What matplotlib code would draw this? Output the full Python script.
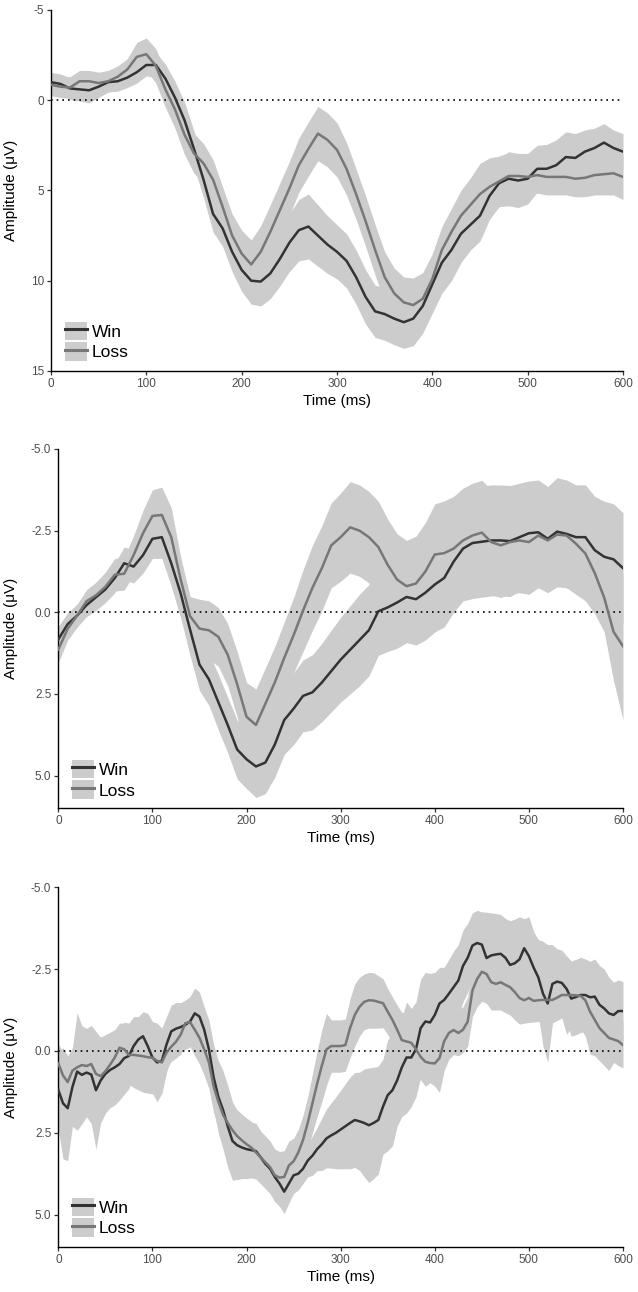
import matplotlib
matplotlib.use("Agg")
import matplotlib.pyplot as plt
from matplotlib.lines import Line2D
from matplotlib.patches import Patch
from matplotlib.legend_handler import HandlerTuple
import numpy as np

plt.rcParams["font.family"] = ["Liberation Sans", "DejaVu Sans"]

_WIN = "#333333"
_LOSS = "#777777"
_FILL = "#cccccc"

# time grids (ms)
t_a = np.arange(0, 601, 10)
t_c = np.arange(0, 601, 5)

# ---- panel 1 ----
win_a = [-1.0, -0.9, -0.65, -0.6, -0.55, -0.75, -1.0, -1.05, -1.25, -1.55,
         -1.95, -1.95, -1.2, -0.15, 1.1, 2.7, 4.4, 6.3, 7.1, 8.4,
         9.4, 10.0, 10.05, 9.6, 8.8, 7.9, 7.2, 7.0, 7.5, 8.0,
         8.4, 8.9, 9.8, 10.9, 11.7, 11.85, 12.1, 12.3, 12.1, 11.4,
         10.2, 9.0, 8.3, 7.4, 6.9, 6.4, 5.3, 4.6, 4.35, 4.45,
         4.35, 3.8, 3.8, 3.6, 3.15, 3.2, 2.85, 2.65, 2.35, 2.65,
         2.85]
loss_a = [-0.85, -0.75, -0.7, -1.05, -1.05, -0.95, -1.05, -1.3, -1.7, -2.4,
          -2.55, -1.9, -0.6, 0.5, 1.9, 2.95, 3.5, 4.4, 5.9, 7.5,
          8.5, 9.1, 8.4, 7.3, 6.1, 4.9, 3.6, 2.7, 1.85, 2.2,
          2.75, 3.8, 5.2, 6.7, 8.3, 9.8, 10.7, 11.2, 11.35, 11.0,
          9.9, 8.3, 7.3, 6.4, 5.8, 5.2, 4.8, 4.5, 4.2, 4.2,
          4.25, 4.15, 4.25, 4.25, 4.25, 4.35, 4.3, 4.15, 4.1, 4.05,
          4.25]
win_se_a = [0.55, 0.55, 0.6, 0.65, 0.7, 0.6, 0.55, 0.55, 0.55, 0.6,
            0.6, 0.7, 0.8, 0.9, 1.0, 1.0, 1.0, 1.0, 1.0, 1.1,
            1.2, 1.3, 1.35, 1.4, 1.5, 1.6, 1.7, 1.8, 1.7, 1.6,
            1.5, 1.5, 1.5, 1.5, 1.45, 1.45, 1.45, 1.45, 1.5, 1.5,
            1.6, 1.7, 1.7, 1.6, 1.4, 1.4, 1.3, 1.3, 1.5, 1.5,
            1.4, 1.3, 1.35, 1.4, 1.4, 1.35, 1.2, 1.1, 1.05, 1.0,
            1.0]
loss_se_a = [0.6, 0.6, 0.6, 0.6, 0.6, 0.6, 0.6, 0.6, 0.6, 0.8,
             0.9, 0.95, 1.0, 1.05, 1.1, 1.1, 1.1, 1.1, 1.1, 1.2,
             1.3, 1.35, 1.45, 1.5, 1.5, 1.5, 1.5, 1.5, 1.5, 1.5,
             1.5, 1.45, 1.4, 1.4, 1.4, 1.4, 1.4, 1.4, 1.5, 1.45,
             1.4, 1.3, 1.3, 1.4, 1.5, 1.7, 1.6, 1.4, 1.3, 1.2,
             1.1, 1.0, 1.0, 1.0, 1.0, 1.0, 1.05, 1.1, 1.15, 1.2,
             1.25]

# ---- panel 2 ----
win_b = [0.83, 0.36, 0.1, -0.22, -0.46, -0.7, -1.05, -1.5, -1.4, -1.75,
         -2.25, -2.3, -1.5, -0.58, 0.53, 1.6, 2.05, 2.75, 3.45, 4.2,
         4.5, 4.72, 4.6, 4.05, 3.3, 2.95, 2.56, 2.45, 2.15, 1.8,
         1.45, 1.15, 0.85, 0.55, -0.03, -0.15, -0.3, -0.47, -0.4, -0.6,
         -0.85, -1.05, -1.55, -1.95, -2.12, -2.16, -2.2, -2.2, -2.18, -2.3,
         -2.42, -2.45, -2.25, -2.47, -2.4, -2.3, -2.3, -1.9, -1.7, -1.62,
         -1.35]
loss_b = [1.14, 0.5, 0.1, -0.34, -0.52, -0.78, -1.15, -1.18, -1.75, -2.42,
          -2.95, -2.98, -2.3, -1.0, 0.12, 0.5, 0.55, 0.75, 1.3, 2.2,
          3.2, 3.45, 2.8, 2.15, 1.4, 0.7, -0.05, -0.75, -1.35, -2.05,
          -2.3, -2.6, -2.5, -2.3, -2.0, -1.45, -1.0, -0.8, -0.88, -1.25,
          -1.77, -1.81, -1.95, -2.2, -2.35, -2.44, -2.15, -2.05, -2.15, -2.2,
          -2.15, -2.35, -2.2, -2.38, -2.35, -2.1, -1.8, -1.2, -0.45, 0.6,
          1.04]
win_se_b = [0.4, 0.35, 0.35, 0.35, 0.4, 0.4, 0.45, 0.5, 0.5, 0.55,
            0.6, 0.65, 0.7, 0.75, 0.8, 0.8, 0.8, 0.85, 0.85, 0.9,
            0.9, 0.95, 0.95, 1.0, 1.05, 1.1, 1.1, 1.15, 1.2, 1.25,
            1.3, 1.35, 1.4, 1.4, 1.35, 1.35, 1.4, 1.4, 1.4, 1.45,
            1.45, 1.5, 1.55, 1.6, 1.7, 1.7, 1.7, 1.7, 1.7, 1.65,
            1.6, 1.6, 1.6, 1.65, 1.65, 1.6, 1.6, 1.65, 1.7, 1.7,
            1.7]
loss_se_b = [0.4, 0.35, 0.35, 0.35, 0.4, 0.45, 0.5, 0.5, 0.6, 0.7,
             0.8, 0.85, 0.9, 0.7, 0.6, 0.9, 0.9, 0.9, 0.95, 1.0,
             1.05, 1.1, 1.1, 1.1, 1.1, 1.15, 1.25, 1.3, 1.3, 1.3,
             1.35, 1.4, 1.4, 1.4, 1.4, 1.4, 1.4, 1.4, 1.45, 1.5,
             1.55, 1.6, 1.6, 1.6, 1.6, 1.6, 1.6, 1.6, 1.6, 1.6,
             1.6, 1.6, 1.6, 1.6, 1.6, 1.55, 1.45, 1.25, 1.05, 1.5,
             2.25]

# ---- panel 3 (5 ms steps) ----
win_c = [1.19, 1.6, 1.75, 1.1, 0.63, 0.73, 0.66, 0.72, 1.2, 0.9,
         0.7, 0.58, 0.5, 0.4, 0.22, 0.15, -0.15, -0.35, -0.45, -0.15,
         0.2, 0.35, 0.3, -0.2, -0.6, -0.68, -0.73, -0.8, -0.9, -1.15,
         -1.05, -0.65, -0.05, 0.8, 1.4, 1.8, 2.3, 2.75, 2.88, 2.95,
         3.0, 3.03, 3.06, 3.25, 3.45, 3.6, 3.85, 4.05, 4.3, 4.05,
         3.8, 3.75, 3.6, 3.35, 3.2, 3.0, 2.85, 2.67, 2.58, 2.5,
         2.4, 2.3, 2.2, 2.11, 2.15, 2.2, 2.27, 2.2, 2.11, 1.7,
         1.35, 1.2, 0.9, 0.5, 0.2, 0.2, -0.05, -0.7, -0.9, -0.87,
         -1.1, -1.45, -1.56, -1.75, -1.95, -2.15, -2.6, -2.85, -3.22, -3.3,
         -3.25, -2.84, -2.92, -2.95, -2.97, -2.85, -2.63, -2.68, -2.8, -3.14,
         -2.9, -2.55, -2.25, -1.75, -1.45, -2.05, -2.12, -2.08, -1.9, -1.6,
         -1.65, -1.71, -1.71, -1.64, -1.66, -1.41, -1.3, -1.15, -1.1, -1.22,
         -1.22]
loss_c = [0.38, 0.75, 0.95, 0.6, 0.5, 0.43, 0.46, 0.4, 0.7, 0.77,
          0.62, 0.42, 0.2, -0.1, -0.05, 0.12, 0.12, 0.14, 0.16, 0.19,
          0.21, 0.3, 0.35, 0.05, -0.13, -0.28, -0.5, -0.85, -0.88, -0.65,
          -0.4, -0.05, 0.35, 1.08, 1.55, 1.95, 2.2, 2.42, 2.6, 2.73,
          2.85, 2.95, 3.1, 3.25, 3.4, 3.55, 3.8, 3.87, 3.85, 3.5,
          3.37, 3.1, 2.72, 2.2, 1.6, 1.0, 0.45, -0.05, -0.15, -0.15,
          -0.15, -0.18, -0.7, -1.1, -1.35, -1.5, -1.55, -1.54, -1.5, -1.46,
          -1.2, -0.95, -0.65, -0.33, -0.29, -0.25, -0.05, 0.18, 0.33, 0.37,
          0.38, 0.22, -0.3, -0.55, -0.64, -0.55, -0.65, -0.9, -1.85, -2.2,
          -2.42, -2.35, -2.1, -2.05, -2.1, -2.02, -1.95, -1.8, -1.62, -1.55,
          -1.62, -1.53, -1.55, -1.56, -1.56, -1.56, -1.63, -1.71, -1.71, -1.71,
          -1.7, -1.68, -1.55, -1.2, -0.95, -0.7, -0.55, -0.4, -0.35, -0.3,
          -0.18]
win_se_c = [1.2, 1.7, 1.6, 1.2, 1.8, 1.5, 1.35, 1.5, 1.8, 1.3,
            1.2, 1.15, 1.15, 1.1, 1.1, 1.0, 0.9, 0.7, 0.75, 1.0,
            1.1, 1.2, 1.0, 0.85, 0.8, 0.8, 0.75, 0.75, 0.77, 0.77,
            0.75, 0.7, 0.9, 1.0, 1.1, 1.2, 1.25, 1.2, 1.05, 0.95,
            0.9, 0.85, 0.85, 0.8, 0.75, 0.75, 0.75, 0.7, 0.67, 0.6,
            0.55, 0.5, 0.45, 0.5, 0.6, 0.66, 0.8, 0.9, 1.0, 1.1,
            1.2, 1.3, 1.4, 1.45, 1.5, 1.65, 1.75, 1.7, 1.65, 1.45,
            1.7, 1.7, 1.4, 1.5, 1.7, 1.5, 1.45, 1.5, 1.5, 1.5,
            1.3, 1.1, 1.0, 1.05, 1.1, 1.1, 1.1, 1.05, 1.0, 1.0,
            1.0, 1.4, 1.3, 1.25, 1.2, 1.2, 1.35, 1.35, 1.3, 0.9,
            1.2, 1.1, 1.15, 1.6, 1.8, 1.2, 1.0, 1.0, 1.0, 1.15,
            1.15, 1.15, 1.1, 1.1, 1.15, 1.2, 1.2, 1.1, 1.0, 0.95,
            0.9]
loss_se_c = [0.6, 0.7, 0.7, 0.65, 0.9, 0.95, 1.0, 1.05, 1.2, 1.2,
             1.1, 0.95, 0.85, 0.75, 0.8, 0.9, 1.0, 1.05, 1.1, 1.1,
             1.1, 1.1, 0.9, 0.5, 0.45, 0.5, 0.6, 0.7, 0.75, 0.8,
             0.8, 0.8, 0.8, 0.8, 0.8, 0.8, 0.8, 0.8, 0.8, 0.8,
             0.8, 0.8, 0.8, 0.8, 0.8, 0.8, 0.8, 0.8, 0.8, 0.75,
             0.7, 0.7, 0.75, 0.8, 0.9, 1.0, 1.1, 1.1, 0.8, 0.8,
             0.8, 0.8, 0.9, 0.95, 0.9, 0.85, 0.85, 0.85, 0.8, 0.75,
             0.7, 0.7, 0.75, 0.85, 0.9, 0.95, 1.0, 0.7, 0.75, 0.6,
             0.7, 1.05, 0.9, 0.8, 0.75, 0.7, 0.7, 0.75, 0.8, 0.85,
             0.9, 0.9, 0.85, 0.8, 0.85, 0.85, 0.85, 0.85, 0.8, 0.7,
             0.75, 0.65, 0.65, 0.7, 1.2, 0.7, 0.7, 0.7, 1.2, 1.0,
             0.9, 1.0, 1.1, 1.3, 1.1, 1.0, 1.0, 1.0, 0.7, 0.75,
             0.7]

ticks_a = [-5, 0, 5, 10, 15]
ticklabels_a = ["-5", "0", "5", "10", "15"]
ticks_b = [-5.0, -2.5, 0.0, 2.5, 5.0]
ticklabels_b = ["-5.0", "-2.5", "0.0", "2.5", "5.0"]
xticks = [0, 100, 200, 300, 400, 500, 600]


def draw_panel(ax, t, win, loss, win_se, loss_se, ylim, yticks, yticklabels, ylab_x, leg_y):
    win, loss = np.array(win), np.array(loss)
    win_se, loss_se = np.array(win_se), np.array(loss_se)
    ax.fill_between(t, win - win_se, win + win_se, color=_FILL, lw=0)
    ax.fill_between(t, loss - loss_se, loss + loss_se, color=_FILL, lw=0)
    ax.axhline(0, color="black", lw=1.2, dashes=(1, 2.4), zorder=3)
    ax.plot(t, win, color=_WIN, lw=1.8, zorder=4)
    ax.plot(t, loss, color=_LOSS, lw=1.8, zorder=4)

    ax.set_xlim(0, 600)
    ax.set_ylim(*ylim)
    ax.set_xticks(xticks)
    ax.set_yticks(yticks)
    ax.set_yticklabels(yticklabels)
    for s in ("top", "right"):
        ax.spines[s].set_visible(False)
    for s in ("left", "bottom"):
        ax.spines[s].set_linewidth(1.0)
        ax.spines[s].set_color("black")
    ax.tick_params(direction="out", length=3, width=0.9, color="#333333",
                   labelsize=8.5, labelcolor="#4d4d4d", pad=2)
    ax.set_xlabel("Time (ms)", fontsize=11, labelpad=3)
    ax.set_ylabel("Amplitude (\u03bcV)", fontsize=11)
    ax.yaxis.set_label_coords(ylab_x, 0.5)

    handles = [
        (Patch(color=_FILL, lw=0), Line2D([], [], color=_WIN, lw=2.2)),
        (Patch(color=_FILL, lw=0), Line2D([], [], color=_LOSS, lw=2.2)),
    ]
    ax.legend(handles, ["Win", "Loss"], handler_map={tuple: HandlerTuple(ndivide=1, pad=0)},
              loc="lower left", bbox_to_anchor=(0.024, leg_y), frameon=False,
              fontsize=12.5, handlelength=1.26, handleheight=1.26,
              handletextpad=0.3, labelspacing=0.12, borderpad=0, borderaxespad=0)


fig = plt.figure(figsize=(6.38, 12.92), dpi=100)
ax1 = fig.add_axes([0.0799, 0.7129, 0.8966, 0.2794])
ax2 = fig.add_axes([0.0914, 0.3744, 0.8851, 0.2781])
ax3 = fig.add_axes([0.0914, 0.0346, 0.8851, 0.2786])

draw_panel(ax1, t_a, win_a, loss_a, win_se_a, loss_se_a, (15, -5),
           ticks_a, ticklabels_a, -0.058, 0.028)
draw_panel(ax2, t_a, win_b, loss_b, win_se_b, loss_se_b, (6.0, -5.0),
           ticks_b, ticklabels_b, -0.071, 0.026)
draw_panel(ax3, t_c, win_c, loss_c, win_se_c, loss_se_c, (6.0, -5.0),
           ticks_b, ticklabels_b, -0.071, 0.029)

fig.savefig("out.png", dpi=100)
